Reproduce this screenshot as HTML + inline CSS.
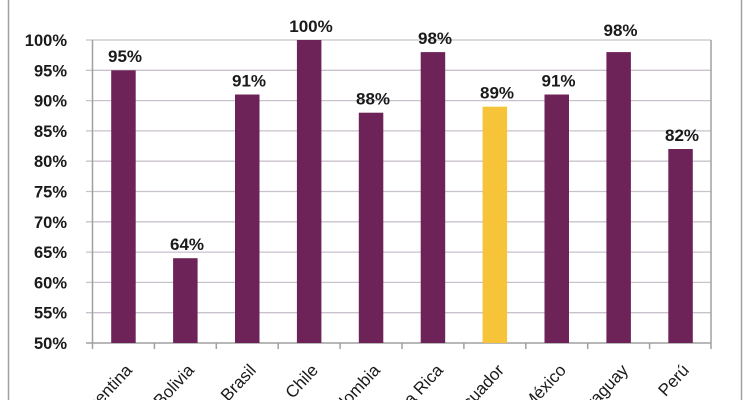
<!DOCTYPE html>
<html>
<head>
<meta charset="utf-8">
<style>
html,body{margin:0;padding:0;background:#fff;overflow:hidden;width:750px;height:400px;}
svg{display:block;}
text{font-family:"Liberation Sans",Arial,sans-serif;fill:#1a1a1a;}
</style>
</head>
<body>
<svg width="750" height="400" viewBox="0 0 750 400" xmlns="http://www.w3.org/2000/svg">
<rect x="0" y="0" width="750" height="400" fill="#fff"/>
<!-- outer frame -->
<line x1="8.5" y1="0" x2="8.5" y2="400" stroke="#a0a0a0" stroke-width="1.5"/>
<line x1="741.5" y1="0" x2="741.5" y2="400" stroke="#a0a0a0" stroke-width="1.5"/>

<!-- gridlines -->
<g stroke="#c9c2cc" stroke-width="1.3">
<line x1="86" y1="40" x2="711" y2="40"/>
<line x1="86" y1="70.3" x2="711" y2="70.3"/>
<line x1="86" y1="100.6" x2="711" y2="100.6"/>
<line x1="86" y1="130.9" x2="711" y2="130.9"/>
<line x1="86" y1="161.2" x2="711" y2="161.2"/>
<line x1="86" y1="191.5" x2="711" y2="191.5"/>
<line x1="86" y1="221.8" x2="711" y2="221.8"/>
<line x1="86" y1="252.1" x2="711" y2="252.1"/>
<line x1="86" y1="282.4" x2="711" y2="282.4"/>
<line x1="86" y1="312.7" x2="711" y2="312.7"/>
</g>
<!-- axes -->
<g stroke="#a0a0a0" stroke-width="1.5">
<line x1="92.5" y1="40" x2="92.5" y2="343"/>
<line x1="711" y1="40" x2="711" y2="343"/>
<line x1="86" y1="343" x2="711" y2="343"/>
<line x1="92.5" y1="343" x2="92.5" y2="349"/>
<line x1="154.4" y1="343" x2="154.4" y2="349"/>
<line x1="216.3" y1="343" x2="216.3" y2="349"/>
<line x1="278.2" y1="343" x2="278.2" y2="349"/>
<line x1="340.1" y1="343" x2="340.1" y2="349"/>
<line x1="402" y1="343" x2="402" y2="349"/>
<line x1="463.9" y1="343" x2="463.9" y2="349"/>
<line x1="525.8" y1="343" x2="525.8" y2="349"/>
<line x1="587.7" y1="343" x2="587.7" y2="349"/>
<line x1="649.6" y1="343" x2="649.6" y2="349"/>
<line x1="711" y1="343" x2="711" y2="349"/>
</g>

<!-- y tick labels -->
<g font-size="16.5" font-weight="bold" text-anchor="end">
<text x="67" y="46">100%</text>
<text x="67" y="76.3">95%</text>
<text x="67" y="106.6">90%</text>
<text x="67" y="136.9">85%</text>
<text x="67" y="167.2">80%</text>
<text x="67" y="197.5">75%</text>
<text x="67" y="227.8">70%</text>
<text x="67" y="258.1">65%</text>
<text x="67" y="288.4">60%</text>
<text x="67" y="318.7">55%</text>
<text x="67" y="349">50%</text>
</g>

<!-- bars -->
<g fill="#6e2358">
<rect x="111.2" y="70.3" width="24.5" height="272.7"/>
<rect x="173.1" y="258.2" width="24.5" height="84.8"/>
<rect x="235" y="94.5" width="24.5" height="248.5"/>
<rect x="296.9" y="40" width="24.5" height="303"/>
<rect x="358.8" y="112.7" width="24.5" height="230.3"/>
<rect x="420.7" y="52.1" width="24.5" height="290.9"/>
<rect x="544.5" y="94.5" width="24.5" height="248.5"/>
<rect x="606.4" y="52.1" width="24.5" height="290.9"/>
<rect x="668.3" y="149" width="24.5" height="194"/>
</g>
<rect x="482.6" y="106.7" width="24.5" height="236.3" fill="#f6c339"/>

<!-- data labels -->
<g font-size="17" font-weight="bold" text-anchor="middle">
<text x="125" y="62">95%</text>
<text x="187" y="250">64%</text>
<text x="249" y="86.5">91%</text>
<text x="311" y="32">100%</text>
<text x="373" y="104.5">88%</text>
<text x="435" y="44">98%</text>
<text x="497" y="98.5">89%</text>
<text x="558.5" y="86.5">91%</text>
<text x="620.5" y="36">98%</text>
<text x="682" y="141">82%</text>
</g>

<!-- category labels -->
<g font-size="17" text-anchor="end">
<text transform="translate(133,371) rotate(-47)">Argentina</text>
<text transform="translate(195,371) rotate(-47)">Bolivia</text>
<text transform="translate(257,371) rotate(-47)">Brasil</text>
<text transform="translate(319,371) rotate(-47)">Chile</text>
<text transform="translate(381,371) rotate(-47)">Colombia</text>
<text transform="translate(444,371) rotate(-47)">Costa Rica</text>
<text transform="translate(505,371) rotate(-47)">Ecuador</text>
<text transform="translate(567,371) rotate(-47)">México</text>
<text transform="translate(629,371) rotate(-47)">Paraguay</text>
<text transform="translate(690,371) rotate(-47)">Perú</text>
</g>
</svg>
</body>
</html>
